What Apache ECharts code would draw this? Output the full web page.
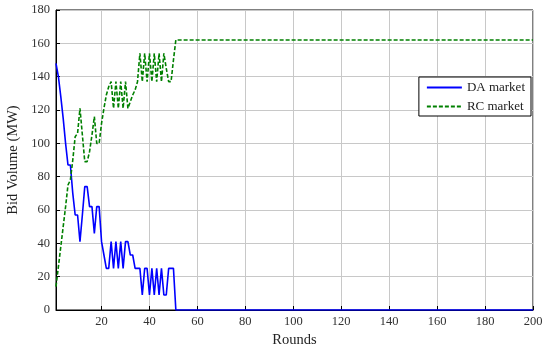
<!DOCTYPE html>
<html>
<head>
<meta charset="utf-8">
<script src="https://cdn.jsdelivr.net/npm/echarts@6/dist/echarts.min.js"></script>
<style>html,body{margin:0;padding:0;background:#fff}#c{width:544px;height:346px}</style>
</head>
<body>
<div id="c"></div>
<script>
// Rounds (1..51, then the flat tail ends at round 200)
const rounds = [1,2,3,4,5,6,7,8,9,10,11,12,13,14,15,16,17,18,19,20,21,22,23,24,25,26,27,28,29,30,31,32,33,34,35,36,37,38,39,40,41,42,43,44,45,46,47,48,49,50,51,200];
// DA market bid volume (MW)
const daMarket = [148,140,128,115,100,87,87,70,57,57,41,57,74,74,62,62,46,62,62,41,33,25,25,41,25,41,25,41,25,41,41,33,33,25,25,25,9,25,25,9,25,9,25,9,25,9,9,25,25,25,0,0];
// RC market bid volume (MW)
const rcMarket = [14,26,38,50,62,75,78,90,104,106,121,105,89,89,95,105,116,100,100,112,121,129,134,137,121,137,121,137,121,137,121,125,129,132,137,154,137,154,137,154,137,154,137,154,137,154,145,137,137,150,162,162];
const xTicks = {min: 1, max: 200};
const yTicks = {min: 0, max: 180, interval: 20};

const pair = (xs, ys) => xs.map((x, i) => [x, ys[i]]);
const font = '"Liberation Serif","DejaVu Serif",serif';
const chart = echarts.init(document.getElementById('c'));
chart.setOption({
  animation: false,
  backgroundColor: '#fff',
  textStyle: {fontFamily: font},
  grid: {left: 56, right: 11, top: 10, bottom: 36, show: true, borderColor: '#000', borderWidth: 1,
         containLabel: false, outerBoundsMode: 'none'},
  legend: {
    right: 13, top: 77, orient: 'vertical', itemWidth: 35, itemHeight: 10, itemGap: 6,
    backgroundColor: '#fff', borderColor: '#000', borderWidth: 1, padding: [4, 6, 3, 7],
    itemStyle: {opacity: 0},
    textStyle: {fontFamily: font, fontSize: 13, color: '#222'},
    data: ['DA market', 'RC market']
  },
  xAxis: {
    type: 'value', min: xTicks.min, max: xTicks.max, splitNumber: 10,
    name: 'Rounds', nameLocation: 'middle', nameGap: 16,
    nameTextStyle: {fontFamily: font, fontSize: 14.5, color: '#222'},
    axisLine: {lineStyle: {color: '#000'}},
    axisTick: {inside: true, length: 4, lineStyle: {color: '#000'}},
    axisLabel: {showMinLabel: false, fontFamily: font, fontSize: 12.5, color: '#333', margin: 5},
    splitLine: {show: true, lineStyle: {color: '#c8c8c8'}}
  },
  yAxis: {
    type: 'value', min: yTicks.min, max: yTicks.max, interval: yTicks.interval,
    name: 'Bid Volume (MW)', nameLocation: 'middle', nameGap: 28,
    nameTextStyle: {fontFamily: font, fontSize: 14.5, color: '#222'},
    axisLine: {show: true, lineStyle: {color: '#000'}},
    axisTick: {show: true, inside: true, length: 4, lineStyle: {color: '#000'}},
    axisLabel: {fontFamily: font, fontSize: 12.5, color: '#333', margin: 6},
    splitLine: {show: true, lineStyle: {color: '#c8c8c8'}}
  },
  series: [
    {name: 'DA market', type: 'line', symbol: 'none', data: pair(rounds, daMarket),
     lineStyle: {color: '#0000ff', width: 1.6}, itemStyle: {color: '#0000ff'}},
    {name: 'RC market', type: 'line', symbol: 'none', data: pair(rounds, rcMarket),
     lineStyle: {color: '#008000', width: 1.6, type: [4, 2]}, itemStyle: {color: '#008000'}}
  ]
});
</script>
</body>
</html>
